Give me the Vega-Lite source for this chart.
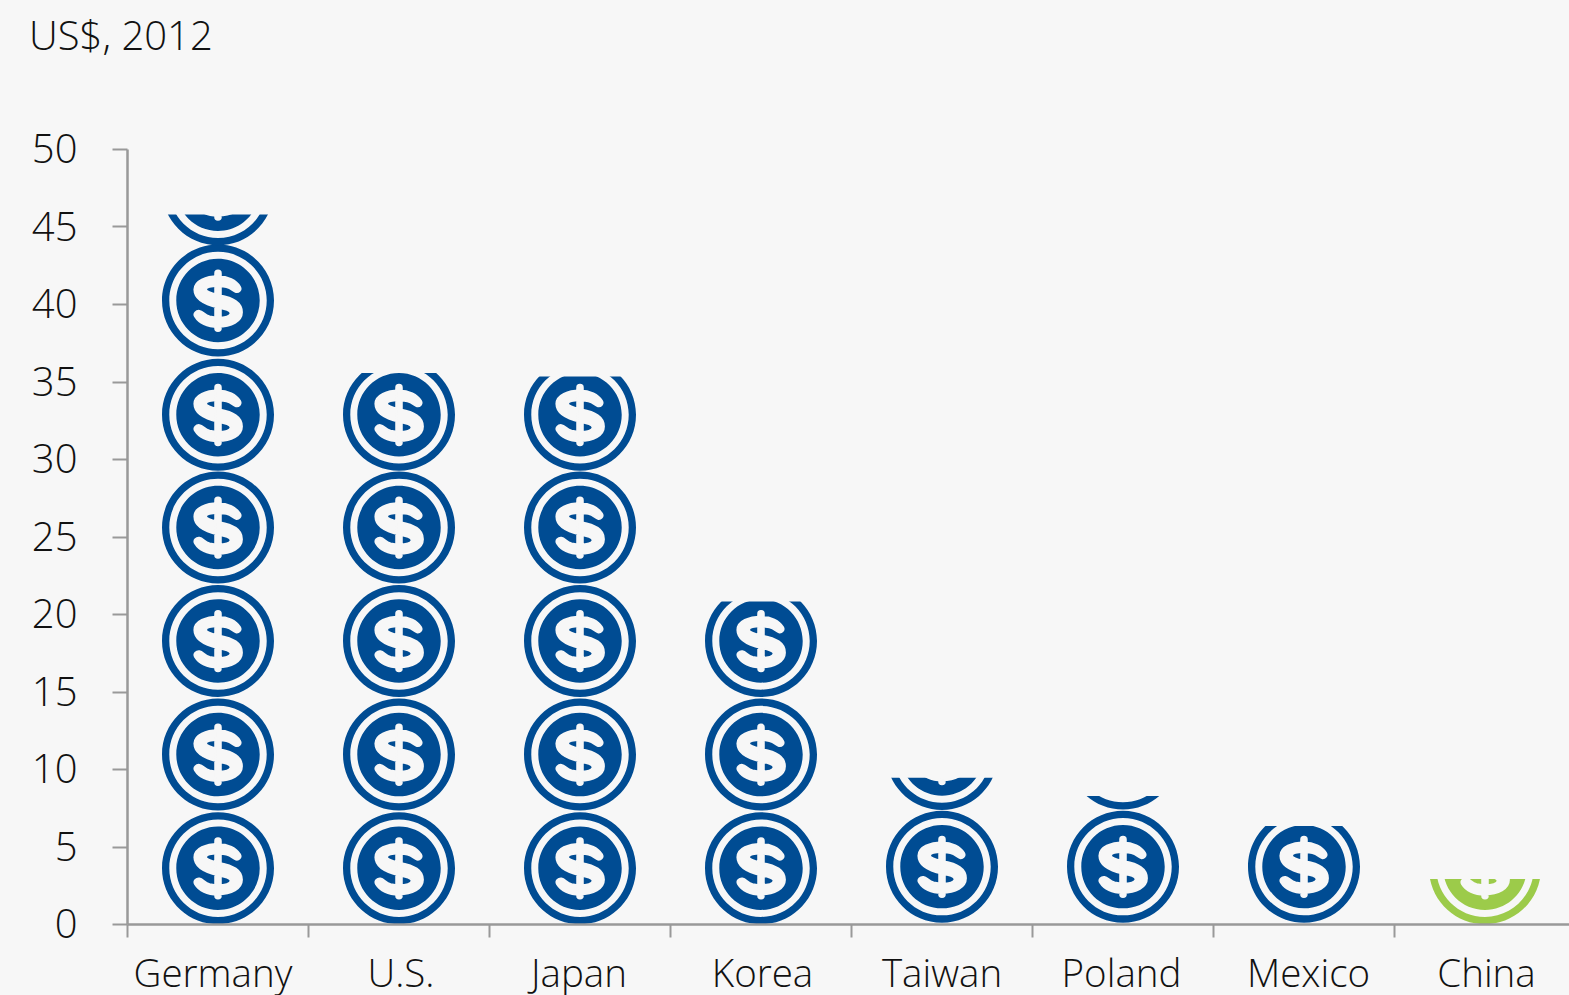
{
  "$schema": "https://vega.github.io/schema/vega-lite/v6.json",
  "description": "Pictogram columns of stacked dollar coins, each column cut off at its value.",
  "width": 1442,
  "height": 775,
  "autosize": "none",
  "padding": {"left": 127, "top": 149, "right": 0, "bottom": 71},
  "background": "#f7f7f7",
  "view": {"stroke": null},
  "title": {
    "text": "US$, 2012",
    "anchor": "start",
    "frame": "group",
    "dx": -98,
    "offset": 41,
    "baseline": "alphabetic",
    "font": "Open Sans",
    "fontSize": 40,
    "fontWeight": 300,
    "color": "#111111"
  },
  "datasets": {
    "columns": [
      {"country": "Germany", "value": 45.77},
      {"country": "U.S.", "value": 35.55},
      {"country": "Japan", "value": 35.33},
      {"country": "Korea", "value": 20.8},
      {"country": "Taiwan", "value": 9.43},
      {"country": "Poland", "value": 8.26},
      {"country": "Mexico", "value": 6.33},
      {"country": "China", "value": 2.9}
    ],
    "coins": [
      {"country": "Germany", "center": 3.6, "group": "peer"},
      {"country": "Germany", "center": 10.93, "group": "peer"},
      {"country": "Germany", "center": 18.26, "group": "peer"},
      {"country": "Germany", "center": 25.58, "group": "peer"},
      {"country": "Germany", "center": 32.85, "group": "peer"},
      {"country": "Germany", "center": 40.22, "group": "peer"},
      {"country": "Germany", "center": 47.4, "group": "peer"},
      {"country": "U.S.", "center": 3.6, "group": "peer"},
      {"country": "U.S.", "center": 10.93, "group": "peer"},
      {"country": "U.S.", "center": 18.26, "group": "peer"},
      {"country": "U.S.", "center": 25.58, "group": "peer"},
      {"country": "U.S.", "center": 32.85, "group": "peer"},
      {"country": "Japan", "center": 3.6, "group": "peer"},
      {"country": "Japan", "center": 10.93, "group": "peer"},
      {"country": "Japan", "center": 18.26, "group": "peer"},
      {"country": "Japan", "center": 25.58, "group": "peer"},
      {"country": "Japan", "center": 32.85, "group": "peer"},
      {"country": "Korea", "center": 3.6, "group": "peer"},
      {"country": "Korea", "center": 10.93, "group": "peer"},
      {"country": "Korea", "center": 18.26, "group": "peer"},
      {"country": "Taiwan", "center": 3.7, "group": "peer"},
      {"country": "Taiwan", "center": 10.97, "group": "peer"},
      {"country": "Poland", "center": 3.7, "group": "peer"},
      {"country": "Poland", "center": 11.0, "group": "peer"},
      {"country": "Mexico", "center": 3.7, "group": "peer"},
      {"country": "China", "center": 3.6, "group": "china"}
    ]
  },
  "layer": [
    {
      "data": {"name": "coins"},
      "mark": {
        "type": "point",
        "filled": true,
        "opacity": 1,
        "size": 12544,
        "strokeWidth": 0,
        "clip": true,
        "xOffset": 0.5,
        "shape": "M-1,0A1,1 0 1 1 1,0A1,1 0 1 1 -1,0ZM-0.87,0A0.87,0.87 0 1 0 0.87,0A0.87,0.87 0 1 0 -0.87,0ZM-0.745,0A0.745,0.745 0 1 1 0.745,0A0.745,0.745 0 1 1 -0.745,0Z"
      },
      "encoding": {
        "x": {"field": "country", "type": "nominal", "sort": null},
        "y": {"field": "center", "type": "quantitative"},
        "color": {
          "field": "group",
          "type": "nominal",
          "legend": null,
          "scale": {"domain": ["peer", "china"], "range": ["#004c93", "#9ccb4a"]}
        }
      }
    },
    {
      "data": {"name": "coins"},
      "mark": {
        "type": "point",
        "filled": true,
        "opacity": 1,
        "size": 12321,
        "fill": "#f7f7f7",
        "stroke": "#f7f7f7",
        "strokeWidth": 2,
        "strokeJoin": "round",
        "clip": true,
        "xOffset": 0.5,
        "shape": "M0,-0.437C0.18,-0.437 0.329,-0.359 0.395,-0.251C0.431,-0.192 0.371,-0.144 0.323,-0.156C0.275,-0.168 0.24,-0.228 0.15,-0.246C0.09,-0.257 0.048,-0.263 0,-0.263C-0.12,-0.263 -0.216,-0.24 -0.216,-0.198C-0.216,-0.15 -0.09,-0.126 0.03,-0.096C0.269,-0.048 0.431,0.03 0.431,0.21C0.431,0.371 0.24,0.473 0,0.473C-0.21,0.473 -0.347,0.395 -0.413,0.287C-0.449,0.228 -0.389,0.18 -0.335,0.186C-0.269,0.198 -0.24,0.263 -0.15,0.287C-0.09,0.299 -0.048,0.305 0,0.305C0.12,0.305 0.228,0.287 0.228,0.228C0.228,0.18 0.12,0.15 0,0.126C-0.24,0.072 -0.425,-0.012 -0.425,-0.198C-0.425,-0.359 -0.21,-0.437 0,-0.437ZM-0.05,-0.49A0.05,0.05 0 0 1 0.05,-0.49L0.05,0.497A0.05,0.05 0 0 1 -0.05,0.497Z"
      },
      "encoding": {
        "x": {"field": "country", "type": "nominal", "sort": null},
        "y": {"field": "center", "type": "quantitative"}
      }
    },
    {
      "data": {"name": "columns"},
      "mark": {"type": "bar", "color": "#f7f7f7", "clip": true},
      "encoding": {
        "x": {"field": "country", "type": "nominal", "sort": null},
        "y": {"field": "value", "type": "quantitative"},
        "y2": {"datum": 50}
      }
    }
  ],
  "resolve": {"scale": {"x": "shared", "y": "shared"}},
  "encoding": {
    "x": {
      "field": "country",
      "type": "nominal",
      "sort": null,
      "title": null,
      "scale": {
        "domain": ["Germany", "U.S.", "Japan", "Korea", "Taiwan", "Poland", "Mexico", "China"],
        "range": [0, 1448],
        "paddingInner": 0,
        "paddingOuter": 0
      },
      "axis": {
        "zindex": 1,
        "labelAngle": 0,
        "labelFont": "Open Sans",
        "labelFontSize": 38.5,
        "labelFontWeight": 300,
        "labelColor": "#111111",
        "labelBaseline": "alphabetic",
        "labelPadding": 49,
        "labelOverlap": false,
        "labelBound": false,
        "labelFlush": false,
        "labelOffset": {"expr": "datum.value === 'Germany' ? -5 : datum.value === 'U.S.' ? 2 : datum.value === 'Japan' ? -1 : datum.value === 'Korea' ? 1.5 : datum.value === 'Poland' ? -1.5 : datum.value === 'Mexico' ? 4.5 : datum.value === 'China' ? 1.5 : 0"},
        "tickBand": "extent",
        "tickColor": "#999999",
        "tickSize": 13,
        "tickWidth": 2,
        "domainColor": "#999999",
        "domainWidth": 2.5
      }
    },
    "y": {
      "type": "quantitative",
      "title": null,
      "scale": {"domain": [0, 50], "nice": false},
      "axis": {
        "zindex": 1,
        "values": [0, 5, 10, 15, 20, 25, 30, 35, 40, 45, 50],
        "grid": false,
        "labelFont": "Open Sans",
        "labelFontSize": 40,
        "labelFontWeight": 300,
        "labelColor": "#111111",
        "labelPadding": 35,
        "labelOffset": 1.5,
        "labelFlush": false,
        "labelOverlap": false,
        "tickColor": "#999999",
        "tickSize": 15,
        "tickWidth": 2,
        "domainColor": "#999999",
        "domainWidth": 2.5
      }
    }
  }
}
